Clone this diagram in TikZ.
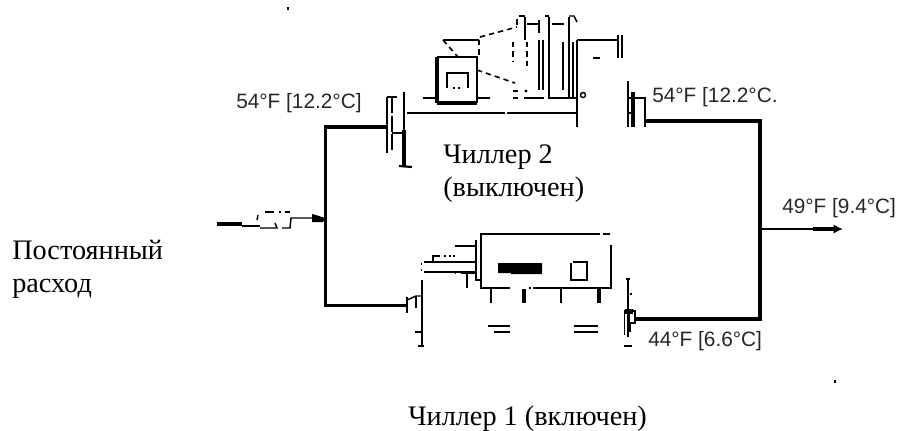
\documentclass[tikz,border=0pt]{standalone}
\usepackage{fontspec}
\setmainfont{Liberation Serif}
\newfontfamily\lblfont{Liberation Sans}
\usetikzlibrary{arrows.meta}
\tikzset{
  thin1/.style={line width=1.1pt,line cap=butt},
  med/.style={line width=1.6pt},
  heavy/.style={line width=2.8pt,line join=miter},
  dsh/.style={line width=1.2pt,dash pattern=on 4pt off 3pt},
  ru/.style={font=\fontsize{21.2}{25}\selectfont,anchor=west,inner sep=0pt},
  tmp/.style={font=\lblfont\fontsize{15.6}{18}\selectfont,anchor=west,inner sep=0pt,text=black!85},
}
\begin{document}
\begin{tikzpicture}[x=0.75pt,y=-0.75pt]
\useasboundingbox (0,0) rectangle (898,430);
% texts
\node[ru] (t1) at (12,250) {Постоянный};
\node[ru] (t2) at (12,289) {расход};
\node[ru] (t3) at (443,157) {Чиллер 2};
\node[ru] (t4) at (443,190) {(выключен)};
\node[ru] (t5) at (408,419) {Чиллер 1 (включен)};
\node[tmp] (l1) at (236,103) {54°F [12.2°C]};
\node[tmp] (l2) at (652,97) {54°F [12.2°C.};
\node[tmp] (l3) at (782,208) {49°F [9.4°C]};
\node[tmp] (l4) at (648,341) {44°F [6.6°C]};
% stray specks
\fill (287,7) rectangle (289,10);
\fill (834,380) rectangle (836,383);
% piping
\draw[heavy] (387,127) -- (325.5,127) -- (325.5,305.5) -- (407,305.5);
\draw[heavy] (645,121) -- (760,121) -- (760,319) -- (635,319);
\draw[line width=2.2pt] (760,229) -- (777,229);
\draw[line width=1.2pt] (777,229) -- (813,229);
\draw[line width=2.4pt,-{Latex[length=7pt,width=7pt]}] (813,229) -- (843,229);
% inlet valve
\draw[heavy] (217,224) -- (242,224);
\draw[thin1] (242,226) -- (260,226);
\draw[thin1] (258,215) -- (257,220);
\draw[med] (265,212) -- (274,212);
\fill (279,211) rectangle (281,213);
\fill (285,211) rectangle (290,213);
\draw[thin1] (260,228) -- (277,228) -- (275,223);
\draw[thin1] (282,228) -- (290,228) -- (291,218) -- (312,218);
\fill (312,214) -- (316,215) -- (325,218) -- (323,222) -- (312,222) -- cycle;
% chiller 2 entering valve
\draw[thin1] (387,97) -- (397,97);
\draw[med] (387,97) -- (387,153);
\draw[thin1,dash pattern=on 12pt off 2pt] (392,97) -- (392,153);
\draw[thin1] (392,133) -- (404,133);
\draw[thin1] (404,92) -- (404,130);
\draw[line width=2.4pt] (404,130) -- (404,166);
\draw[med] (399,166) -- (412,167);
% shaft
\draw[thin1] (407,113) -- (505,113) (507,113) -- (577,113);
% chiller 2 machine
\draw[line width=2.6pt] (437,103) -- (437,57);
\draw[line width=2.6pt] (437,103) -- (477,103);
\draw[med] (437,57) -- (477,57) -- (477,103);
\draw[med] (423,98) -- (437,98) (477,98) -- (490,98);
\draw[med] (447,88) -- (447,73) -- (468,73) -- (468,88);
\fill (453,87) rectangle (455,89);
\fill (458,87) rectangle (460,89);
\draw[thin1] (443,40) -- (479,40);
\draw[dsh] (443,40) -- (458,57);
\draw[dsh] (479,40) -- (479,55);
\draw[dsh] (480,37) -- (517,27);
\draw[dsh] (477,70) -- (515,83);
\draw[dsh] (513,42) -- (513,62);
\draw[dsh] (527,42) -- (527,70);
\draw[thin1] (517,19) -- (517,25);
\draw[thin1] (519,16) -- (525,16);
\draw[med] (525,17) -- (525,40);
\draw[thin1] (527,24) -- (538,24);
\draw[thin1] (539,20) -- (539,33);
\draw[med] (539,40) -- (539,90);
\draw[med] (543,40) -- (543,90);
\draw[thin1] (545,16) -- (549,16);
\draw[med] (549,17) -- (549,98);
\draw[thin1] (552,24) -- (564,24);
\draw[thin1] (569,17) -- (569,98);
\draw[thin1] (569,16) -- (574,16) -- (577,22);
\draw[med] (563,42) -- (563,90);
\draw[med] (573,42) -- (573,98);
\draw[med] (577,40) -- (577,127);
\draw[thin1] (577,40) -- (618,40);
\draw[med] (618,35) -- (618,58);
\draw[med] (622,35) -- (622,58);
\draw[med] (593,58) -- (600,58);
\draw[med] (548,98) -- (577,98);
\draw[med] (513,98) -- (518,98) (524,98) -- (544,98);
\draw[thin1] (513,91) -- (518,91);
\fill (526,91) circle (1.6);
\draw[thin1] (583,95) circle (2.5);
% chiller 2 leaving valve
\draw[thin1] (628,81) -- (628,127);
\draw[heavy] (633,92) -- (633,127);
\draw[thin1] (628,98) -- (645,98) -- (645,127);
\draw[thin1] (628,113) -- (633,113);
% chiller 1 entering valve
\draw[line width=2.2pt] (407,297) -- (407,313);
\draw[thin1] (407,300) -- (416,296) -- (422,296);
\draw[thin1] (416,296) -- (416,308);
\draw[line width=2.2pt] (422,280) -- (422,346);
\draw[thin1] (415,332) -- (422,332);
\draw[med] (418,346) -- (424,346);
% chiller 1 machine
\draw[med] (510,288) -- (481,288) -- (481,234) -- (600,234);
\draw[med] (603,234) -- (610,234);
\draw[med] (611,245) -- (611,288) -- (533,288);
\fill (529,287) rectangle (531,289);
\fill (498,263) -- (542,263) -- (542,274) -- (511,274) -- (511,273) -- (498,273) -- cycle;
\draw[med] (571,263) -- (571,280) -- (587,280) -- (587,262) -- (573,262);
\draw[med] (491,288) -- (491,303);
\draw[line width=2.6pt] (524,289) -- (524,303);
\draw[med] (561,288) -- (561,303);
\draw[line width=2.8pt] (599,288) -- (599,303);
\draw[med] (488,326) -- (510,326) (494,332) -- (510,332);
\draw[med] (574,326) -- (598,326) (574,332) -- (598,332);
\draw[med] (476,240) -- (476,280) -- (481,280);
\draw[med] (455,246) -- (476,246);
\draw[med] (424,262) -- (476,262);
\draw[med] (424,272) -- (476,272);
\fill (420.5,263) rectangle (422,265);
\fill (420.5,269) rectangle (422,271);
\draw[med] (433,262) -- (433,256) -- (440,256);
\foreach \px in {444,449,453} \fill (\px,255) rectangle ++(1.8,1.8);
\fill (454.5,272) rectangle (456,274);
\draw[med] (461,273) -- (475,273);
\draw[med] (467,273) -- (467,288);
% chiller 1 leaving valve
\draw[thin1] (626,279) -- (630,279);
\draw[thin1] (628,279) -- (628,310);
\fill (630,293) rectangle (632,295);
\fill (625,309) rectangle (633,314);
\draw[thin1] (624.5,310) -- (624.5,335);
\draw[thin1] (628,310) -- (628,337);
\draw[thin1] (629,311) rectangle (635,323);
\draw[line width=2pt] (630,323) -- (630,332);
\draw[med] (624,346) -- (632,346);
\end{tikzpicture}
\end{document}
